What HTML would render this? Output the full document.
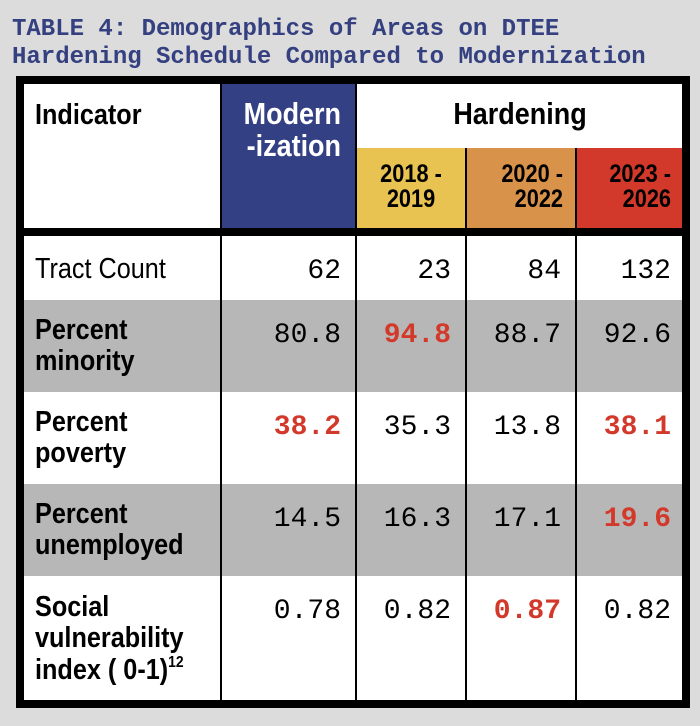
<!DOCTYPE html>
<html><head><meta charset="utf-8"><style>
html,body{margin:0;padding:0;background:#dcdcdc;}
svg{display:block}
.t{font-family:"Liberation Mono",monospace;font-weight:bold;font-size:24px;fill:#34407f}
.l{font-family:"Liberation Sans",sans-serif;font-weight:bold;font-size:29px;fill:#000}
.n{font-family:"Liberation Mono",monospace;font-size:28px;fill:#000}
.r{fill:#d3392a;font-weight:bold}
.y{font-family:"Liberation Sans",sans-serif;font-weight:bold;font-size:25px;fill:#000}
</style></head><body>
<svg width="700" height="726" viewBox="0 0 700 726" xmlns="http://www.w3.org/2000/svg">
<rect width="700" height="726" fill="#dcdcdc"/>
<text class="t" x="12" y="35">TABLE 4: Demographics of Areas on DTEE</text>
<text class="t" x="12" y="63">Hardening Schedule Compared to Modernization</text>
<rect x="16" y="76" width="674" height="632" fill="#000"/>
<rect x="24" y="84" width="658" height="144" fill="#fff"/>
<rect x="222" y="84" width="133" height="144" fill="#334083"/>
<rect x="357" y="148" width="108" height="80" fill="#e8c352"/>
<rect x="467" y="148" width="108" height="80" fill="#d9924a"/>
<rect x="577" y="148" width="105" height="80" fill="#d3392a"/>
<rect x="465" y="148" width="2" height="80" fill="#000"/>
<rect x="575" y="148" width="2" height="80" fill="#000"/>
<rect x="355" y="84" width="2" height="144" fill="#000"/>
<rect x="220" y="84" width="2" height="144" fill="#000"/>
<rect x="24" y="236" width="658" height="464" fill="#fff"/>
<rect x="24" y="300" width="658" height="92" fill="#b7b7b7"/>
<rect x="24" y="484" width="658" height="92" fill="#b7b7b7"/>
<rect x="220" y="236" width="2" height="464" fill="#000"/>
<rect x="355" y="236" width="2" height="464" fill="#000"/>
<rect x="465" y="236" width="2" height="464" fill="#000"/>
<rect x="575" y="236" width="2" height="464" fill="#000"/>
<g transform="translate(35,0) scale(0.87,1)">
<text class="l" x="0" y="124">Indicator</text>
<text class="l" x="0" y="278" style="font-weight:normal">Tract Count</text>
<text class="l" x="0" y="339">Percent</text>
<text class="l" x="0" y="370">minority</text>
<text class="l" x="0" y="431">Percent</text>
<text class="l" x="0" y="462">poverty</text>
<text class="l" x="0" y="523">Percent</text>
<text class="l" x="0" y="554">unemployed</text>
<text class="l" x="0" y="616">Social</text>
<text class="l" x="0" y="647">vulnerability</text>
<text class="l" x="0" y="679">index ( 0-1)<tspan font-size="16" dy="-12">12</tspan></text>
</g>
<g transform="translate(341,0) scale(0.87,1)">
<text class="l" x="0" y="124" text-anchor="end" style="fill:#fff;font-size:31px">Modern</text>
<text class="l" x="0" y="156" text-anchor="end" style="fill:#fff;font-size:31px">-ization</text>
</g>
<g transform="translate(520,0) scale(0.87,1)">
<text class="l" x="0" y="124" text-anchor="middle" style="font-size:31px">Hardening</text>
</g>
<g transform="translate(411,0) scale(0.87,1)">
<text class="y" x="0" y="182" text-anchor="middle">2018 -</text>
<text class="y" x="0" y="207" text-anchor="middle">2019</text>
</g>
<g transform="translate(563,0) scale(0.87,1)">
<text class="y" x="0" y="182" text-anchor="end">2020 -</text>
<text class="y" x="0" y="207" text-anchor="end">2022</text>
</g>
<g transform="translate(671,0) scale(0.87,1)">
<text class="y" x="0" y="182" text-anchor="end">2023 -</text>
<text class="y" x="0" y="207" text-anchor="end">2026</text>
</g>
<g class="n" text-anchor="end">
<text x="341" y="278">62</text><text x="451" y="278">23</text><text x="561" y="278">84</text><text x="671" y="278">132</text>
<text x="341" y="342">80.8</text><text x="451" y="342" class="r">94.8</text><text x="561" y="342">88.7</text><text x="671" y="342">92.6</text>
<text x="341" y="434" class="r">38.2</text><text x="451" y="434">35.3</text><text x="561" y="434">13.8</text><text x="671" y="434" class="r">38.1</text>
<text x="341" y="526">14.5</text><text x="451" y="526">16.3</text><text x="561" y="526">17.1</text><text x="671" y="526" class="r">19.6</text>
<text x="341" y="618">0.78</text><text x="451" y="618">0.82</text><text x="561" y="618" class="r">0.87</text><text x="671" y="618">0.82</text>
</g>
</svg>
</body></html>
